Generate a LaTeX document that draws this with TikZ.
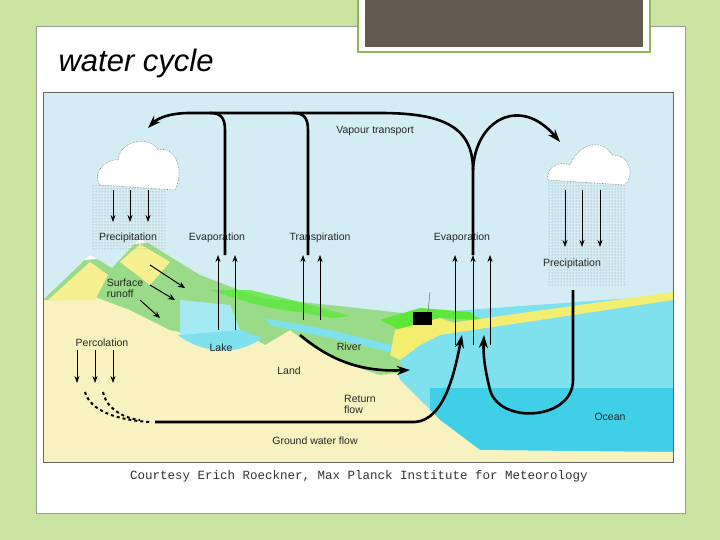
\documentclass[tikz,border=0pt]{standalone}
\usepackage{fontspec}
\setmainfont{Liberation Sans}
\newfontfamily\monof{Liberation Mono}
\usetikzlibrary{arrows.meta,patterns}
\definecolor{sky}{HTML}{D4ECF4}
\definecolor{sea}{HTML}{7FE0EE}
\definecolor{deep}{HTML}{3FD0E8}
\definecolor{sand}{HTML}{F8F2C0}
\definecolor{veg}{HTML}{9ADB8A}
\definecolor{bright}{HTML}{5CE83A}
\definecolor{beach}{HTML}{F4EE70}
\definecolor{slidebg}{HTML}{C9E3A0}
\definecolor{frame}{HTML}{8DB85A}
\definecolor{boxin}{HTML}{625B4E}
\tikzset{
 lbl/.style={font=\fontsize{10.5}{11}\selectfont,text=black!85,inner sep=0pt},
 thin arrow/.style={-{Stealth[length=7pt,width=5pt]},line width=0.8pt},
 big arrow/.style={-{Stealth[length=13pt,width=9pt]},line width=2.6pt},
 rain/.style={pattern=dots,pattern color=black!45,draw=none},
 cloud/.style={fill=white,draw=black!50,densely dotted,line width=0.6pt}
}
\begin{document}
\begin{tikzpicture}[x=1pt,y=-1pt]
\useasboundingbox (0,0) rectangle (720,540);
\fill[slidebg] (0,0) rectangle (720,540);
\fill[white,draw=black!40] (36,26) rectangle (685,513);
\fill[white,draw=frame,line width=1.2pt] (358,-2) rectangle (650,52);
\fill[boxin] (365,-2) rectangle (643,47);
\node[anchor=west,font=\itshape\fontsize{31}{33}\selectfont] (title) at (55,63) {water cycle};
\begin{scope}
\clip (43,92) rectangle (673,462);
\fill[sky] (43,92) rectangle (673,462);
\fill[sea] (330,320) -- (673,295) -- (673,462) -- (330,462) -- cycle;
\fill[deep] (430,388) -- (673,388) -- (673,462) -- (430,462) -- cycle;
\fill[sand] (43,300) -- (90,255) -- (112,268) -- (140,238) -- (200,275) -- (235,315) -- (300,305) -- (390,330) -- (392,358) -- (400,380) -- (440,420) -- (480,450) -- (673,452) -- (673,462) -- (43,462) -- cycle;
\fill[veg] (43,300) -- (90,255) -- (112,268) -- (140,238) -- (200,275) -- (260,298) -- (330,305) -- (420,315) -- (490,318) -- (470,322) -- (420,330) -- (395,350) -- (405,372) -- (380,375) -- (350,365) -- (310,345) -- (290,330) -- (265,345) -- (240,330) -- (195,335) -- (170,330) -- (130,310) -- (90,295) -- (60,300) -- cycle;
\fill[bright,opacity=0.8] (210,290) .. controls (240,300) and (270,310) .. (300,312) -- (330,318) -- (350,316) -- (300,302) -- (250,290) -- cycle;
\fill[bright] (380,320) -- (420,308) -- (470,312) -- (480,320) -- (440,318) -- (400,330) -- cycle;
\fill[beach!60!sand] (48,300) -- (90,262) -- (108,275) -- (95,300) -- cycle;
\fill[beach!60!sand] (120,262) -- (140,244) -- (170,262) -- (150,285) -- cycle;
\fill[white] (84,260) -- (90,255) -- (97,259) -- cycle;
\fill[white] (134,244) -- (140,238) -- (147,243) -- cycle;
\fill[sea] (178,335) .. controls (200,352) and (235,358) .. (262,338) -- (240,330) -- (200,332) -- cycle;
\fill[sea!70!white] (180,300) -- (230,305) -- (240,330) -- (180,335) -- cycle;
\fill[sea] (265,318) -- (330,330) -- (392,345) -- (390,352) -- (330,338) -- (270,325) -- cycle;
\fill[beach] (400,330) -- (673,292) -- (673,300) -- (420,338) -- cycle;
\fill[beach] (395,330) -- (440,318) -- (460,325) -- (420,345) -- (400,360) -- (390,355) -- cycle;
\fill[black] (413,312) rectangle (432,325);
\draw[black!70] (428,312) -- (430,292);
\fill[rain] (92,185) rectangle (165,250);
\fill[rain] (548,180) rectangle (625,285);
\draw[cloud] (100,185) .. controls (90,170) and (110,158) .. (118,160) .. controls (120,140) and (150,135) .. (158,150) .. controls (175,145) and (185,170) .. (175,190) -- cycle;
\draw[cloud] (548,180) .. controls (545,168) and (560,160) .. (570,165) .. controls (580,140) and (605,140) .. (612,155) .. controls (630,155) and (635,175) .. (625,185) -- cycle;
\end{scope}
\draw[black!60] (43,92) rectangle (673,462);
\node[lbl] (vt) at (375,131) {Vapour transport};
\node[lbl] (pl) at (128,238) {Precipitation};
\node[lbl] (el) at (217,238) {Evaporation};
\node[lbl] (tr) at (320,238) {Transpiration};
\node[lbl] (er) at (462,238) {Evaporation};
\node[lbl] (pr) at (572,264) {Precipitation};
\node[lbl,align=left] (sr) at (125,288) {Surface\\runoff};
\node[lbl] (pe) at (102,343) {Percolation};
\node[lbl] (lk) at (221,348) {Lake};
\node[lbl] (rv) at (349,347) {River};
\node[lbl] (ld) at (289,371) {Land};
\node[lbl,align=left] (rf) at (360,404) {Return\\flow};
\node[lbl] (gw) at (315,441) {Ground water flow};
\node[lbl] (oc) at (610,417) {Ocean};
\node[font=\monof\fontsize{12.5}{13}\selectfont,text=black!80] (cr) at (359,476) {Courtesy Erich Roeckner, Max Planck Institute for Meteorology};
\coordinate (evtop) at (473,255);
\coordinate (lcl) at (148,128);
\coordinate (rcl) at (560,142);
\draw[big arrow] (evtop) -- (473,170) .. controls (473,125) and (440,113) .. (380,113) -- (190,113) .. controls (170,113) and (158,118) .. (lcl);
\draw[big arrow] (473,170) .. controls (475,120) and (520,95) .. (rcl);
\draw[line width=2.6pt] (225,255) -- (225,130) .. controls (225,117) and (220,113) .. (210,113);
\draw[line width=2.6pt] (308,255) -- (308,130) .. controls (308,117) and (303,113) .. (293,113);
\foreach \x in {113,130,148} \draw[thin arrow] (\x,190) -- (\x,222);
\foreach \x in {565,582,600} \draw[thin arrow] (\x,190) -- (\x,247);
\foreach \x in {218,235} \draw[thin arrow] (\x,330) -- (\x,255);
\foreach \x in {303,320} \draw[thin arrow] (\x,320) -- (\x,255);
\foreach \x in {455,473,490} \draw[thin arrow] (\x,345) -- (\x,255);
\foreach \x in {77,95,113} \draw[thin arrow] (\x,350) -- (\x,383);
\draw[-{Stealth[length=7pt,width=6pt]},line width=1pt] (150,265) -- (185,288);
\draw[-{Stealth[length=7pt,width=6pt]},line width=1pt] (150,285) -- (175,300);
\draw[-{Stealth[length=7pt,width=6pt]},line width=1pt] (140,300) -- (160,318);
\draw[dashed,line width=2pt] (85,392) .. controls (90,410) and (115,420) .. (150,422);
\draw[dashed,line width=2pt] (103,392) .. controls (105,405) and (120,418) .. (140,420);
\draw[big arrow] (155,422) -- (415,422) .. controls (445,420) and (455,370) .. (462,335);
\draw[big arrow] (300,335) .. controls (330,360) and (360,372) .. (410,370);
\draw[big arrow] (573,290) -- (573,380) .. controls (573,420) and (500,425) .. (490,390) .. controls (485,370) and (483,355) .. (484,335);
\end{tikzpicture}
\end{document}
